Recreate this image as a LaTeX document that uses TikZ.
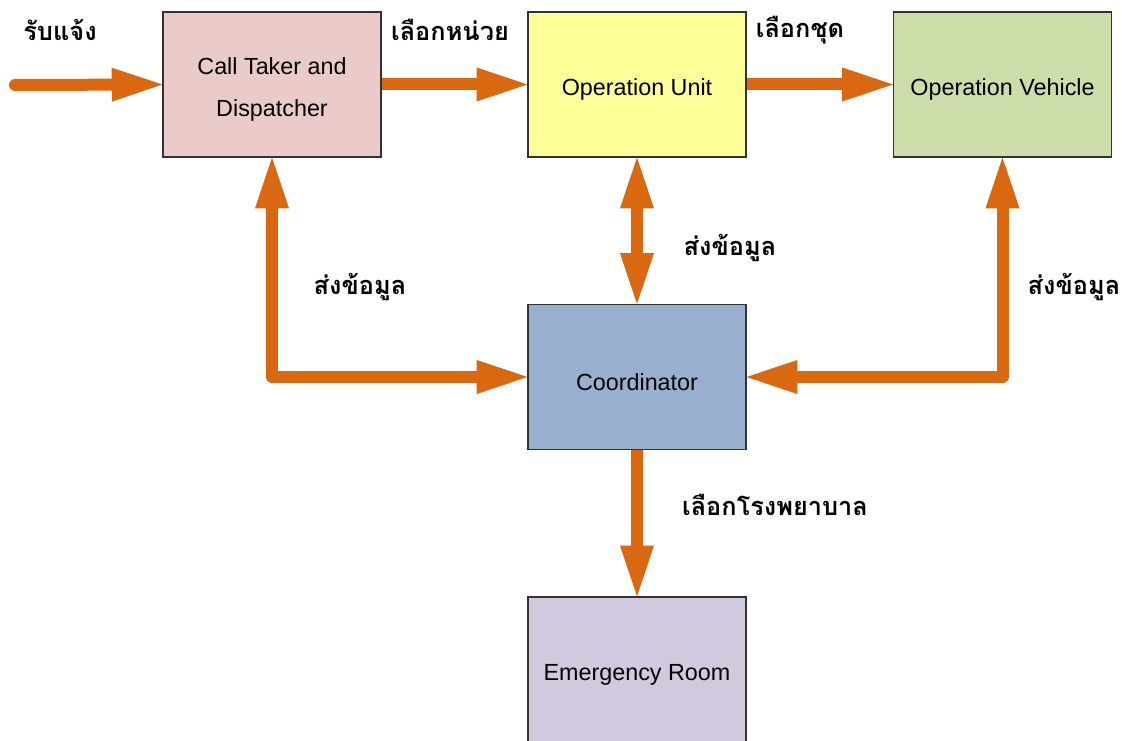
\documentclass[tikz,border=0pt]{standalone}
\usepackage{fontspec}
\setmainfont{Liberation Sans}
\newfontfamily\thaifont[Script=Thai]{Loma}
\usetikzlibrary{arrows.meta}
\pgfdeclarelayer{bg}
\pgfsetlayers{bg,main}
\definecolor{arrorange}{HTML}{DA6810}
\definecolor{boxpink}{HTML}{EBCBCA}
\definecolor{boxyellow}{HTML}{FFFF99}
\definecolor{boxgreen}{HTML}{CDDDA9}
\definecolor{boxblue}{HTML}{97B0CF}
\definecolor{boxlilac}{HTML}{D3C9DF}
\definecolor{boxedge}{HTML}{333333}
\tikzset{
  box/.style={draw=boxedge, line width=0.9pt, minimum width=163.5pt, minimum height=108.75pt,
    inner sep=0pt},
  boxtext/.style={align=center, font=\fontsize{17.5}{31}\selectfont, inner sep=0pt, yshift=-3.8pt},
  flow/.style={draw=arrorange, line width=9pt, line cap=round, line join=round,
    arrows={-Triangle[length=38pt, width=25.5pt, line width=0pt, fill=arrorange]}},
  flow2/.style={flow, arrows={Triangle[length=38pt, width=25.5pt, line width=0pt, fill=arrorange]-Triangle[length=38pt, width=25.5pt, line width=0pt, fill=arrorange]}},
  lbl/.style={font=\thaifont\bfseries\fontsize{19}{23}\selectfont, inner sep=0pt}
}
\begin{document}
\begin{tikzpicture}[x=0.75pt, y=-0.75pt]
\useasboundingbox (0,0) rectangle (1122,741);
\node[box, fill=boxpink, label={[boxtext]center:{Call Taker and\\Dispatcher}}] (ct) at (272,84.5) {};
\node[box, fill=boxyellow, label={[boxtext]center:Operation Unit}] (ou) at (637,84.5) {};
\node[box, fill=boxgreen, label={[boxtext]center:Operation Vehicle}] (ov) at (1002.5,84.5) {};
\node[box, fill=boxblue, label={[boxtext]center:Coordinator}] (co) at (637,377) {};
\node[box, fill=boxlilac, label={[boxtext]center:Emergency Room}] (er) at (637,669.5) {};
\coordinate (in) at (15,85);
\begin{pgfonlayer}{bg}
\draw[flow] (in) -- (ct.west);
\draw[flow] (ct.east) -- (ou.west);
\draw[flow] (ou.east) -- (ov.west);
\draw[flow2] (ct.south) |- (co.west);
\draw[flow2] (ou.south) -- (co.north);
\draw[flow2] (ov.south) |- (co.east);
\draw[flow] (co.south) -- (er.north);
\end{pgfonlayer}
\node[lbl] (l1) at (60,30) {รับแจ้ง};
\node[lbl] (l2) at (450,30) {เลือกหน่วย};
\node[lbl] (l3) at (800,30) {เลือกชุด};
\node[lbl] (l4) at (360,287) {ส่งข้อมูล};
\node[lbl] (l5) at (730,248) {ส่งข้อมูล};
\node[lbl] (l6) at (1074,287) {ส่งข้อมูล};
\node[lbl] (l7) at (775,505) {เลือกโรงพยาบาล};
\end{tikzpicture}
\end{document}
